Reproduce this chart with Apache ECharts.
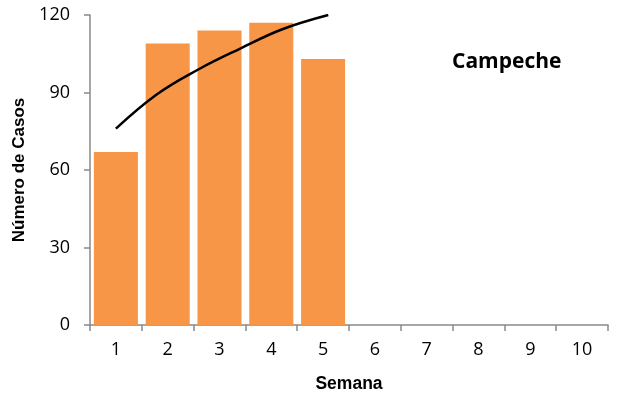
<!DOCTYPE html>
<html>
<head>
<meta charset="utf-8">
<script src="https://cdn.jsdelivr.net/npm/echarts@6/dist/echarts.min.js"></script>
<style>html,body{margin:0;padding:0;background:#fff;}#c{width:617px;height:401px;}</style>
</head>
<body>
<div id="c"></div>
<script>
var weeks = ['1','2','3','4','5','6','7','8','9','10'];
var cases = [67, 109, 114, 117, 103, null, null, null, null, null];
var trendX = [1, 1.8, 2.6, 3.4, 4.2, 5.1];
var trendY = [76, 89.4, 99, 107, 114.4, 120];
var yTicks = [0, 30, 60, 90, 120];

var chart = echarts.init(document.getElementById('c'));
var axisGrey = '#898989';
chart.setOption({
  animation: false,
  grid: {left: 90, right: 9, top: 15, bottom: 76},
  graphic: [{
    type: 'text', left: 452, top: 52,
    style: {text: 'Campeche', fontFamily: 'Open Sans', fontWeight: 'bold', fontSize: 21, fill: '#000'}
  }],
  xAxis: [{
    type: 'category', data: weeks,
    name: 'Semana', nameLocation: 'middle', nameGap: 50,
    nameTextStyle: {fontFamily: 'Liberation Sans', fontWeight: 'bold', fontSize: 17.5, color: '#000'},
    axisLine: {onZero: false, lineStyle: {color: axisGrey, width: 1.5}},
    axisTick: {show: true, length: 6, lineStyle: {color: axisGrey, width: 1.5}},
    axisLabel: {fontFamily: 'Open Sans', fontSize: 18, color: '#000', margin: 16}
  }, {
    type: 'value', min: 0.5, max: 10.5, show: false
  }],
  yAxis: [{
    type: 'value', min: 0, max: 120, interval: 30,
    name: 'Número de Casos', nameLocation: 'middle', nameGap: 62, nameRotate: 90,
    nameTextStyle: {fontFamily: 'Liberation Sans', fontWeight: 'bold', fontSize: 17, color: '#000'},
    axisLine: {show: true, onZero: false, lineStyle: {color: axisGrey, width: 1.5}},
    axisTick: {show: true, inside: false, length: 6, lineStyle: {color: axisGrey, width: 1.5}},
    splitLine: {show: false},
    axisLabel: {show: true, fontFamily: 'Open Sans', fontSize: 18, color: '#000', margin: 20,
      formatter: function (v) { return yTicks.indexOf(v) >= 0 ? String(v) : ''; }}
  }],
  series: [{
    type: 'bar', data: cases, barCategoryGap: '15%',
    itemStyle: {color: '#F79646'}
  }, {
    type: 'line', xAxisIndex: 1, smooth: 0.4, symbol: 'none',
    data: trendX.map(function (x, i) { return [x, trendY[i]]; }),
    lineStyle: {color: '#000', width: 2.5}, z: 5
  }]
});
</script>
</body>
</html>
